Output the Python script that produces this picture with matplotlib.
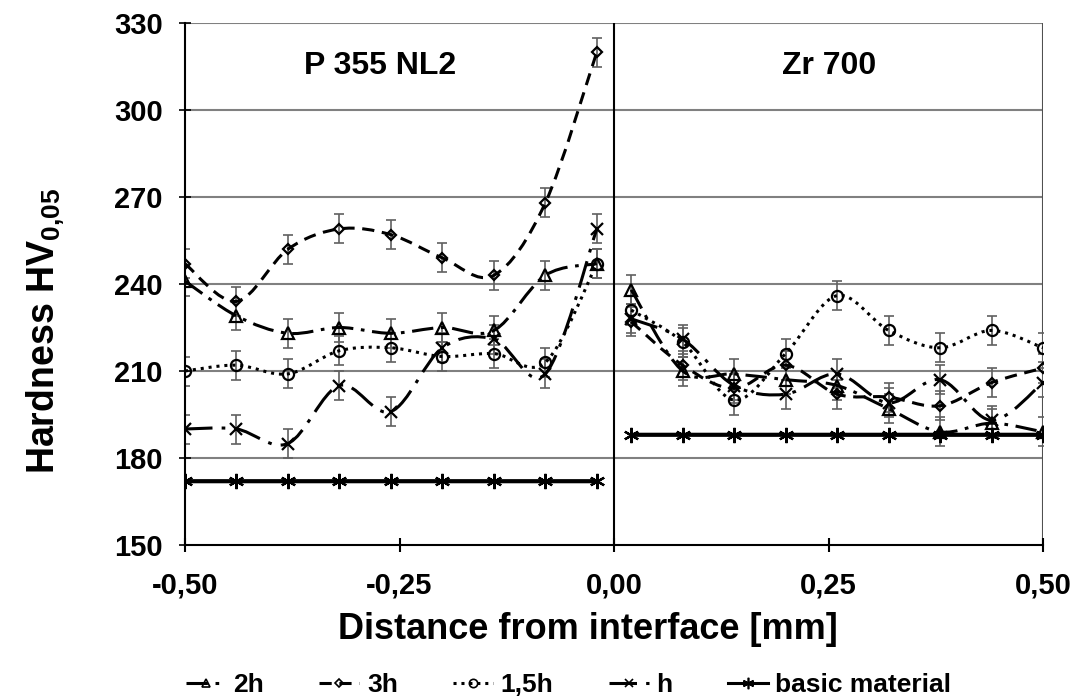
#!/usr/bin/env python3
"""Hardness profile across the P 355 NL2 / Zr 700 interface (smoothed Excel-style lines)."""
import matplotlib
matplotlib.use("Agg")
import matplotlib.pyplot as plt
from matplotlib.path import Path
from matplotlib.patches import PathPatch
from matplotlib.lines import Line2D

plt.rcParams.update({
    "font.family": "sans-serif",
    "font.sans-serif": ["Liberation Sans", "DejaVu Sans"],
    "font.weight": "bold",
    "mathtext.fontset": "custom",
    "mathtext.rm": "Liberation Sans:bold",
    "mathtext.bf": "Liberation Sans:bold",
    "axes.unicode_minus": False,
})

# measurement positions [mm]
x_left = [-0.50, -0.44, -0.38, -0.32, -0.26, -0.20, -0.14, -0.08, -0.02]
x_right = [0.02, 0.08, 0.14, 0.20, 0.26, 0.32, 0.38, 0.44, 0.50]

# hardness HV0,05 per annealing time
h2_left = [241, 229, 223, 225, 223, 225, 224, 243, 247]
h2_right = [238, 210, 209, 207, 205, 197, 189, 192, 189]
h3_left = [247, 234, 252, 259, 257, 249, 243, 268, 320]
h3_right = [227, 212, 204, 212, 202, 201, 198, 206, 211]
h15_left = [210, 212, 209, 217, 218, 215, 216, 213, 247]
h15_right = [231, 220, 200, 216, 236, 224, 218, 224, 218]
h1_left = [190, 190, 185, 205, 196, 218, 221, 209, 259]
h1_right = [228, 221, 205, 202, 209, 199, 207, 193, 206]
basic_left = [172, 172, 172, 172, 172, 172, 172, 172, 172]
basic_right = [188, 188, 188, 188, 188, 188, 188, 188, 188]
ERR = 5

series = [
    ("2h", h2_left, h2_right, "^", 8, (0, (7, 2.5, 1.2, 2.5)), True),
    ("3h", h3_left, h3_right, "D", 5.5, (0, (4, 2.5)), True),
    ("1,5h", h15_left, h15_right, "o", 8, (0, (1, 1.6)), True),
    ("h", h1_left, h1_right, "x", 8, (0, (9, 3, 1.2, 3)), True),
    ("basic material", basic_left, basic_right, (6, 2, 0), 11, "-", False),
]


def smooth_path(x, y):
    """Catmull-Rom style bezier through the points (like Excel smoothed lines)."""
    n = len(x)
    verts = [(x[0], y[0])]
    codes = [Path.MOVETO]
    for i in range(n - 1):
        a = i - 1 if i > 0 else i
        d = i + 2 if i + 2 < n else i + 1
        c1 = (x[i] + (x[i + 1] - x[a]) / 6, y[i] + (y[i + 1] - y[a]) / 6)
        c2 = (x[i + 1] - (x[d] - x[i]) / 6, y[i + 1] - (y[d] - y[i]) / 6)
        verts += [c1, c2, (x[i + 1], y[i + 1])]
        codes += [Path.CURVE4] * 3
    return Path(verts, codes)


fig = plt.figure(figsize=(10.79, 6.98), dpi=100)
ax = fig.add_axes([185 / 1079, 1 - 545 / 698, (1043 - 185) / 1079, (545 - 23) / 698])

ax.set_xlim(-0.5, 0.5)
ax.set_ylim(150, 330)
for gy in [180, 210, 240, 270, 300, 330]:
    ax.axhline(gy, color="#808080", lw=1.5, zorder=1)
ax.axvline(0, color="black", lw=1.5, zorder=1)
ax.axvline(0.5, color="#505050", lw=1.5, zorder=1)

handles = []
for label, yl, yr, mk, ms, ls, has_err in series:
    lw = 3 if label == "basic material" else 2.2
    for xs, ys in [(x_left, yl), (x_right, yr)]:
        patch = PathPatch(smooth_path(xs, ys), fill=False, ec="black", lw=lw,
                          linestyle=ls, zorder=3, capstyle="butt")
        ax.add_patch(patch)
        if has_err:
            ax.errorbar(xs, ys, yerr=ERR, fmt="none", ecolor="#606060",
                        elinewidth=1.2, capsize=3.5, capthick=1.2, zorder=2)
        ax.plot(xs, ys, ls="none", marker=mk, ms=ms, mfc="none", mec="black",
                mew=1.6, zorder=4)
    handles.append(Line2D([], [], color="black", lw=lw if label != "basic material" else 2.2,
                          linestyle=ls, marker=mk, ms=ms * 0.75, mfc="none",
                          mec="black", mew=1.2, label=label))

ax.set_xticks([-0.5, -0.25, 0.0, 0.25, 0.5])
ax.set_xticklabels(["-0,50", "-0,25", "0,00", "0,25", "0,50"])
ax.set_yticks([150, 180, 210, 240, 270, 300, 330])
ax.tick_params(axis="x", direction="inout", length=10, width=1.5, pad=14, labelsize=21)
ax.tick_params(axis="y", direction="inout", length=8, width=1.2, pad=12, labelsize=21)
for spine in ["top", "right"]:
    ax.spines[spine].set_visible(False)
ax.spines["left"].set_linewidth(1.5)
ax.spines["bottom"].set_linewidth(1.5)

ax.set_xlabel("Distance from interface [mm]", fontsize=26, fontweight="bold")
ax.xaxis.set_label_coords(0.47, -0.128)
ax.set_ylabel(r"Hardness HV$_{\mathbf{0{,}05}}$", fontsize=27, fontweight="bold")
ax.yaxis.set_label_coords(-0.138, 0.41)

ax.text(-0.273, 315, "P 355 NL2", fontsize=23, fontweight="bold", ha="center", va="center")
ax.text(0.251, 315, "Zr 700", fontsize=23, fontweight="bold", ha="center", va="center")

fig.legend(handles=handles, loc="center", bbox_to_anchor=(0.527, 0.018), ncol=5,
           frameon=False, fontsize=19, handlelength=1.5, handletextpad=0.3,
           columnspacing=2.1, borderaxespad=0)

fig.savefig("out.png", dpi=100)
